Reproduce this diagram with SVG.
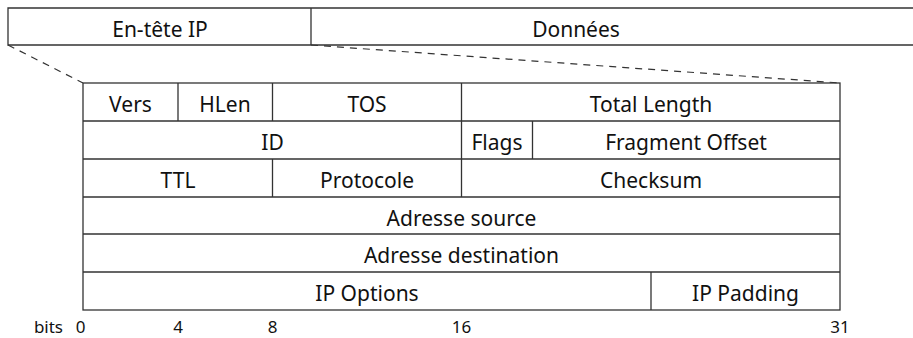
<svg xmlns="http://www.w3.org/2000/svg" width="913" height="338" viewBox="0 0 913 338">
  <style>
    .box { fill: none; stroke: #333; stroke-width: 1.3; }
    .lbl { font-family: "Noto Sans", "Open Sans", sans-serif; font-size: 21px; fill: #111; text-anchor: middle; }
    .bit { font-family: "Noto Sans", "Open Sans", sans-serif; font-size: 17px; fill: #111; text-anchor: middle; }
    .zoom { fill: none; stroke: #333; stroke-width: 1.2; stroke-dasharray: 7 6; }
  </style>
  <rect width="913" height="338" fill="#fff"/>

  <!-- datagram: header + payload -->
  <g id="datagram">
    <path class="box" d="M913 8 H8 V45 H913 M311 8 V45"/>
    <text class="lbl" x="160" y="37">En-tête IP</text>
    <text class="lbl" x="576" y="37">Données</text>
  </g>

  <!-- dashed lines expanding the header -->
  <g id="connectors">
    <line class="zoom" x1="8" y1="45" x2="83" y2="83"/>
    <line class="zoom" x1="311" y1="45" x2="840" y2="83"/>
  </g>

  <!-- header fields, one bit = 23.66 px -->
  <g id="header">
    <rect class="box" x="83" y="83" width="757" height="227"/>
    <path class="box" d="M83 121 H840 M83 159 H840 M83 197 H840 M83 234 H840 M83 272 H840"/>
    <path class="box" d="M178 83 V121 M272.5 83 V121 M461.5 83 V121 M461.5 121 V159 M532.5 121 V159 M272.5 159 V197 M461.5 159 V197 M651 272 V310"/>
  </g>

  <g id="f-vers"><text class="lbl" x="130.5" y="112">Vers</text></g>
  <g id="f-hlen"><text class="lbl" x="225" y="112">HLen</text></g>
  <g id="f-tos"><text class="lbl" x="367" y="112">TOS</text></g>
  <g id="f-len"><text class="lbl" x="651" y="112">Total Length</text></g>
  <g id="f-id"><text class="lbl" x="272.5" y="150">ID</text></g>
  <g id="f-flags"><text class="lbl" x="497" y="150">Flags</text></g>
  <g id="f-frag"><text class="lbl" x="686" y="150">Fragment Offset</text></g>
  <g id="f-ttl"><text class="lbl" x="178" y="188">TTL</text></g>
  <g id="f-proto"><text class="lbl" x="367" y="188">Protocole</text></g>
  <g id="f-sum"><text class="lbl" x="651" y="188">Checksum</text></g>
  <g id="f-src"><text class="lbl" x="461.5" y="225.5">Adresse source</text></g>
  <g id="f-dst"><text class="lbl" x="461.5" y="263">Adresse destination</text></g>
  <g id="f-opt"><text class="lbl" x="367" y="301">IP Options</text></g>
  <g id="f-pad"><text class="lbl" x="745.5" y="301">IP Padding</text></g>

  <!-- bit scale -->
  <g id="scale">
    <text class="bit" x="63" y="333" style="text-anchor:end">bits</text>
    <text class="bit" x="80.5" y="333">0</text>
    <text class="bit" x="178" y="333">4</text>
    <text class="bit" x="272.5" y="333">8</text>
    <text class="bit" x="461.5" y="333">16</text>
    <text class="bit" x="840" y="333">31</text>
  </g>
</svg>
